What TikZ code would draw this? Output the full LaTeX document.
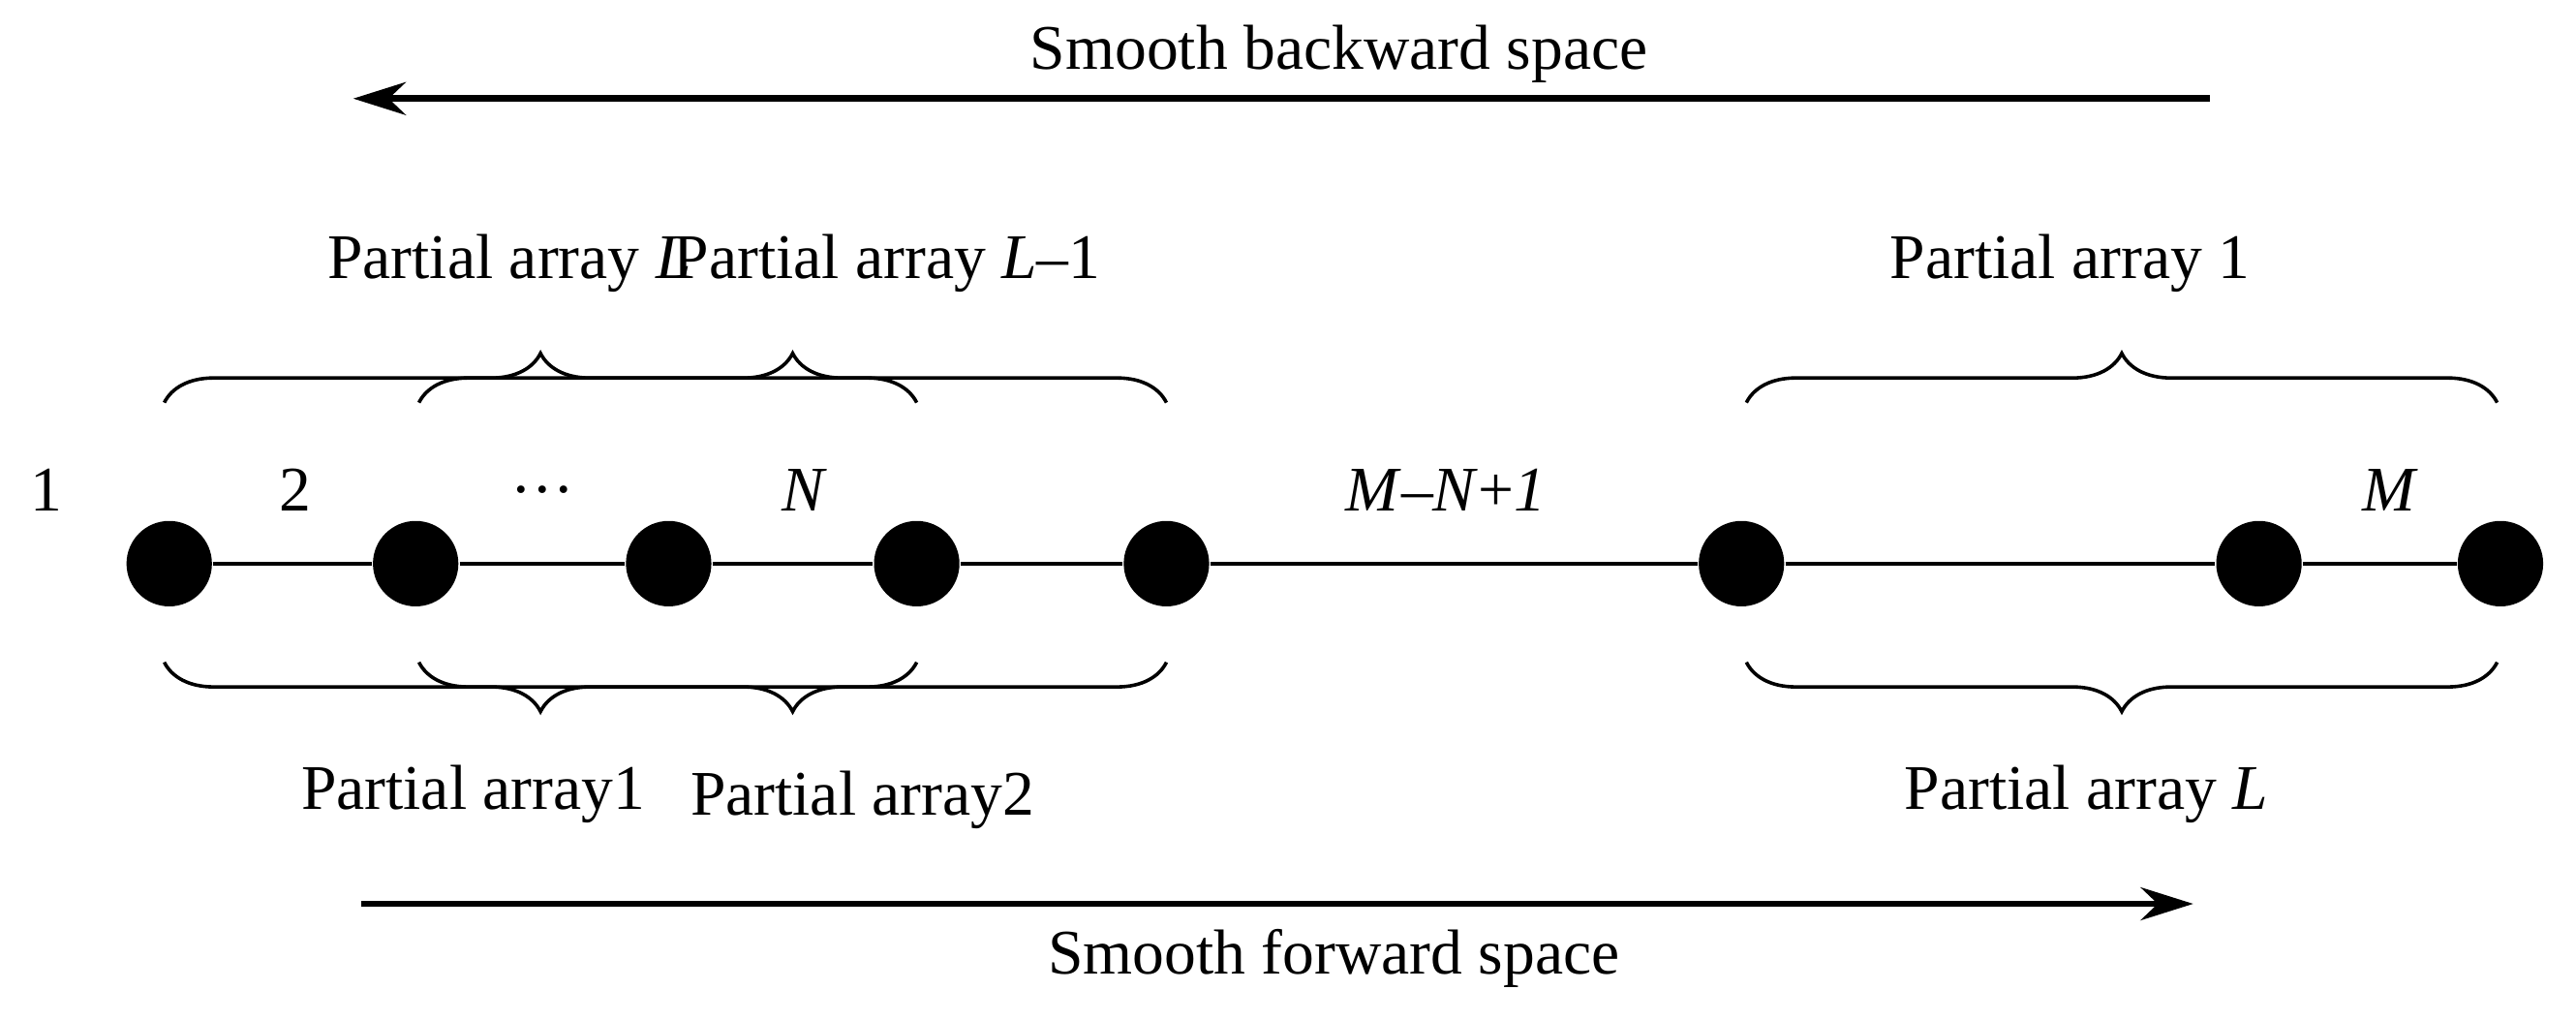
\documentclass[tikz,border=0pt]{standalone}
\usepackage{fontspec}
\setmainfont{Liberation Serif}
\usetikzlibrary{decorations.pathreplacing,arrows.meta}
\begin{document}
\begin{tikzpicture}[x=1cm,y=-1cm,
  dot/.style={circle,fill=black,inner sep=0pt,minimum size=0.52cm},
  lab/.style={font=\fontsize{11}{13}\selectfont,inner sep=0pt},
  br/.style={decorate,decoration={brace,amplitude=0.3cm},line width=0.6pt},
  big/.style={line width=1.1pt,-{Stealth[length=0.32cm,width=0.2cm]}}]
\useasboundingbox (0,0) rectangle (15.68,6.21);
% dots
\foreach \n/\x in {a/1.03,b/2.53,c/4.07,d/5.58,e/7.10,f/10.60,g/13.75,h/15.22}
  \node[dot] (\n) at (\x,3.43) {};
\draw[line width=0.6pt] (a) -- (b) -- (c) -- (d) -- (e) -- (f) -- (g) -- (h);
% number labels
\node[lab] (l1) at (0.28,2.98) {1};
\node[lab] (l2) at (1.80,2.98) {2};
\node[lab] (l3) at (3.30,2.98) {\dots};
\node[lab] (l4) at (4.90,2.98) {\textit{N}};
\node[lab] (l5) at (8.80,2.98) {\textit{M}–\textit{N}+\textit{1}};
\node[lab] (l6) at (14.55,2.98) {\textit{M}};
% top braces
\coordinate (t1a) at (1.00,2.45); \coordinate (t1b) at (5.58,2.45);
\coordinate (t2a) at (2.55,2.45); \coordinate (t2b) at (7.10,2.45);
\coordinate (t3a) at (10.63,2.45); \coordinate (t3b) at (15.20,2.45);
\draw[br] (t1a) -- (t1b);
\draw[br] (t2a) -- (t2b);
\draw[br] (t3a) -- (t3b);
\node[lab] (p1) at (3.10,1.60) {Partial array \textit{L}};
\node[lab] (p2) at (5.40,1.60) {Partial array \textit{L}–1};
\node[lab] (p3) at (12.60,1.60) {Partial array 1};
% bottom braces
\coordinate (b1a) at (1.00,4.03); \coordinate (b1b) at (5.58,4.03);
\coordinate (b2a) at (2.55,4.03); \coordinate (b2b) at (7.10,4.03);
\coordinate (b3a) at (10.63,4.03); \coordinate (b3b) at (15.20,4.03);
\draw[br] (b1b) -- (b1a);
\draw[br] (b2b) -- (b2a);
\draw[br] (b3b) -- (b3a);
\node[lab] (q1) at (2.88,4.83) {Partial array1};
\node[lab] (q2) at (5.25,4.87) {Partial array2};
\node[lab] (q3) at (12.70,4.83) {Partial array \textit{L}};
% arrows
\coordinate (u1) at (13.45,0.60); \coordinate (u2) at (2.15,0.60);
\draw[big] (u1) -- (u2);
\node[lab] (s1) at (8.15,0.33) {Smooth backward space};
\coordinate (v1) at (2.20,5.50); \coordinate (v2) at (13.35,5.50);
\draw[big] (v1) -- (v2);
\node[lab] (s2) at (8.12,5.83) {Smooth forward space};
\end{tikzpicture}
\end{document}
